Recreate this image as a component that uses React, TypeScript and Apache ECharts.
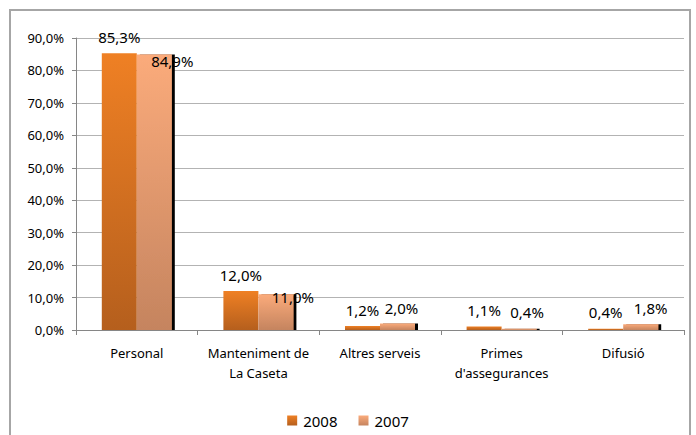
import React, { useEffect, useRef } from "react";
import * as echarts from "echarts";

const categories = [
  "Personal",
  "Manteniment de\nLa Caseta",
  "Altres serveis",
  "Primes\nd'assegurances",
  "Difusió",
];
const seriesNames = ["2008", "2007"];
const values2008 = [85.3, 12.0, 1.2, 1.1, 0.4];
const values2007 = [84.9, 11.0, 2.0, 0.4, 1.8];
const yMin = 0;
const yMax = 90;
const yInterval = 10;

// label nudges (style only) to mimic the original's overlapping label placement
const labelOffsets2007: [number, number][] = [
  [18, 23],
  [17, 19],
  [4, 1],
  [8, 0],
  [10, 0],
];

const fmt = (v: number) => v.toFixed(1).replace(".", ",") + "%";

const grad = (top: string, bottom: string) =>
  new echarts.graphic.LinearGradient(0, 0, 0, 1, [
    { offset: 0, color: top },
    { offset: 1, color: bottom },
  ]);

export default function App() {
  const ref = useRef<HTMLDivElement>(null);

  useEffect(() => {
    if (!ref.current) return;
    const chart = echarts.init(ref.current, undefined, { renderer: "svg" });
    const font = "'Noto Sans', sans-serif";
    const labelBase = {
      show: true,
      position: "top" as const,
      distance: 9,
      fontFamily: font,
      fontSize: 15,
      color: "#000",
      formatter: (p: any) => fmt(p.value),
    };
    chart.setOption({
      animation: false,
      textStyle: { fontFamily: font },
      graphic: [
        {
          type: "rect",
          shape: { x: 10, y: 10, width: 680, height: 440 },
          style: { fill: "none", stroke: "#a6a6a6", lineWidth: 2 },
          silent: true,
        },
      ],
      grid: { left: 76, right: 12, top: 38, bottom: 105, containLabel: false },
      legend: {
        bottom: 2,
        left: "center",
        itemWidth: 10,
        itemHeight: 10,
        itemGap: 21,
        icon: "rect",
        textStyle: { fontFamily: font, fontSize: 15, color: "#000", padding: [0, 0, 0, 1] },
        data: seriesNames,
      },
      xAxis: {
        type: "category",
        data: categories,
        axisLine: { lineStyle: { color: "#868686", width: 1 } },
        axisTick: { show: true, length: 5, lineStyle: { color: "#868686" } },
        axisLabel: {
          fontFamily: font,
          fontSize: 13,
          color: "#000",
          margin: 13,
          lineHeight: 20,
          interval: 0,
        },
      },
      yAxis: {
        type: "value",
        min: yMin,
        max: yMax,
        interval: yInterval,
        axisLine: { show: true, lineStyle: { color: "#868686", width: 1 } },
        axisTick: { show: true, length: 4, lineStyle: { color: "#868686" } },
        splitLine: { lineStyle: { color: "#b3b3b3", width: 1 } },
        axisLabel: {
          fontFamily: font,
          fontSize: 13,
          color: "#000",
          margin: 12,
          formatter: (v: number) => fmt(v),
        },
      },
      series: [
        {
          name: seriesNames[0],
          type: "bar",
          barWidth: 35,
          barGap: "0%",
          data: values2008,
          itemStyle: { color: grad("#EF8024", "#B55F1D") },
          label: labelBase,
        },
        {
          name: seriesNames[1],
          type: "bar",
          barWidth: 35,
          data: values2007.map((v, i) => ({
            value: v,
            label: { offset: labelOffsets2007[i] },
          })),
          itemStyle: {
            color: grad("#FBAB7B", "#C5845F"),
            shadowColor: "#000",
            shadowOffsetX: 3,
            shadowOffsetY: 0,
            shadowBlur: 0,
          },
          label: labelBase,
        },
      ],
    });
    return () => chart.dispose();
  }, []);

  return (
    <div
      ref={ref}
      style={{ position: "fixed", left: 0, top: 0, width: 696, height: 435, background: "#fff" }}
    />
  );
}
